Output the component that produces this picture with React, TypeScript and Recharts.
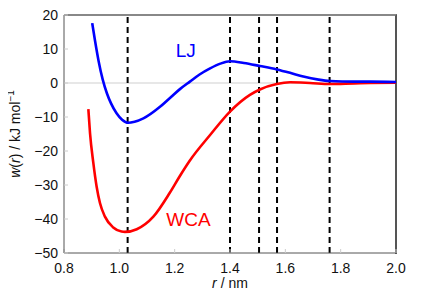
import { LineChart, Line, XAxis, YAxis, ReferenceLine, ReferenceDot } from "recharts";

// pair potentials w(r), kJ/mol
const ljR = [0.902, 0.912, 0.925, 0.94, 0.955, 0.97, 0.99, 1.01, 1.032, 1.055, 1.087, 1.147, 1.183, 1.219, 1.255, 1.29, 1.328, 1.365, 1.4, 1.45, 1.508, 1.569, 1.617, 1.665, 1.72, 1.761, 1.85, 1.906, 2.0];
const ljW = [17.6, 12.5, 6.5, 1.0, -3.0, -6.0, -8.9, -10.8, -11.7, -11.4, -10.4, -7.0, -4.4, -1.8, 0.4, 2.5, 4.3, 5.7, 6.4, 5.9, 5.0, 4.0, 3.0, 1.9, 1.0, 0.6, 0.4, 0.4, 0.3];

const wcaR = [0.888, 0.894, 0.906, 0.918, 0.93, 0.948, 0.978, 1.008, 1.02, 1.063, 1.123, 1.183, 1.22, 1.255, 1.328, 1.4, 1.472, 1.508, 1.569, 1.617, 1.689, 1.761, 1.85, 1.906, 2.0];
const wcaW = [-7.7, -14.7, -23.5, -30.5, -35.3, -39.3, -42.5, -43.7, -43.8, -43.0, -39.3, -32.2, -27.2, -22.8, -15.3, -8.4, -3.5, -1.9, -0.3, 0.2, 0.0, -0.3, -0.1, 0.0, 0.1];

const markerR = [1.03, 1.4, 1.505, 1.57, 1.76];
const xTicks = [0.8, 1.0, 1.2, 1.4, 1.6, 1.8, 2.0];
const yTicks = [-50, -40, -30, -20, -10, 0, 10, 20];

const ljData = ljR.map((r, i) => ({ r, w: ljW[i] }));
const wcaData = wcaR.map((r, i) => ({ r, w: wcaW[i] }));

const font = "'Liberation Sans', Arial, sans-serif";
const tickStyle = { fill: "#111", fontSize: 14, fontFamily: font };
const fmtY = (v: number) => String(v).replace("-", "\u2212");

export default function App() {
  return (
    <div style={{ position: "relative", margin: -8, width: 430, height: 301, background: "#fff" }}>
      <div
        style={{
          position: "absolute",
          left: 64,
          top: 14,
          width: 333,
          height: 240,
          borderTop: "2px solid #888",
          borderRight: "2px solid #555",
          boxSizing: "border-box",
        }}
      />
      <div style={{ position: "absolute", left: 0, top: 0 }}>
        <LineChart width={430} height={301} margin={{ top: 15, right: 34, bottom: 0, left: 0 }}>
          <XAxis
            xAxisId="b"
            dataKey="r"
            type="number"
            domain={[0.8, 2.0]}
            ticks={xTicks}
            allowDataOverflow
            tickFormatter={(v: number) => v.toFixed(1)}
            height={48}
            tickSize={-4}
            tickMargin={14}
            tick={tickStyle}
            stroke="#555"
            tickLine={{ stroke: "#ccc" }}
            label={{
              content: () => (
                <text x={230} y={288} textAnchor="middle" fontFamily={font} fontSize={14} fill="#111">
                  <tspan fontStyle="italic">r</tspan> / nm
                </text>
              ),
            }}
          />
          <YAxis
            yAxisId="l"
            type="number"
            domain={[-50, 20]}
            ticks={yTicks}
            width={64}
            tickSize={-4}
            tickMargin={10}
            tickFormatter={fmtY}
            tick={tickStyle}
            stroke="#555"
            tickLine={{ stroke: "#ccc" }}
            label={{
              content: () => (
                <text
                  x={20}
                  y={134}
                  transform="rotate(-90 20 134)"
                  textAnchor="middle"
                  fontFamily={font}
                  fontSize={14}
                  fill="#111"
                >
                  <tspan fontStyle="italic">w</tspan>(<tspan fontStyle="italic">r</tspan>) / kJ mol
                  <tspan dy={-6} fontSize={10}>{"\u22121"}</tspan>
                </text>
              ),
            }}
          />
          <ReferenceLine xAxisId="b" yAxisId="l" y={0} stroke="#cfcfcf" strokeWidth={1} />
          {markerR.map((x) => (
            <ReferenceLine key={x} xAxisId="b" yAxisId="l" x={x} stroke="#000" strokeWidth={2} strokeDasharray="6 4" />
          ))}
          <Line
            xAxisId="b"
            yAxisId="l"
            data={wcaData}
            dataKey="w"
            type="monotone"
            stroke="#ff0000"
            strokeWidth={2.6}
            dot={false}
            isAnimationActive={false}
          />
          <Line
            xAxisId="b"
            yAxisId="l"
            data={ljData}
            dataKey="w"
            type="monotone"
            stroke="#0000ff"
            strokeWidth={2.6}
            dot={false}
            isAnimationActive={false}
          />
          <ReferenceDot
            xAxisId="b"
            yAxisId="l"
            x={1.24}
            y={9.7}
            r={0}
            fill="none"
            stroke="none"
            label={{ value: "LJ", fill: "#0000ff", fontSize: 19, fontFamily: font, position: "center" }}
          />
          <ReferenceDot
            xAxisId="b"
            yAxisId="l"
            x={1.25}
            y={-40}
            r={0}
            fill="none"
            stroke="none"
            label={{ value: "WCA", fill: "#ff0000", fontSize: 19, fontFamily: font, position: "center" }}
          />
        </LineChart>
      </div>
    </div>
  );
}
